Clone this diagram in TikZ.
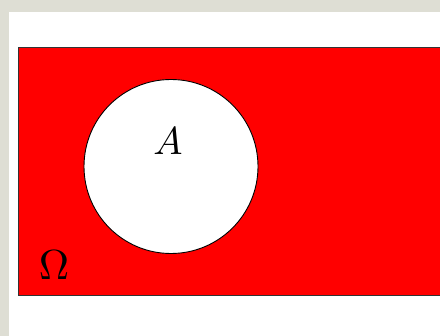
\documentclass[tikz,border=0pt]{standalone}
\begin{document}
\begin{tikzpicture}[x=1pt,y=-1pt,
  setbox/.style={fill=red,draw=black!80,line width=1pt},
  setcirc/.style={fill=white,draw=black,line width=0.9pt},
  lbl/.style={inner sep=0pt}]
\definecolor{texture}{RGB}{222,222,212}
\useasboundingbox (0,0) rectangle (440,336);
\fill[texture] (0,0) rectangle (440,336);
\fill[white] (9,12) rectangle (440,336);
\path[setbox] (18,48) rectangle (442,296);
\node[setcirc,circle,minimum size=174pt,inner sep=0pt] (A) at (171,166.5) {};
\node[lbl] (la) at (168,141) {\scalebox{3.9}{$A$}};
\node[lbl] (om) at (54,265.5) {\scalebox{4.2}{$\Omega$}};
\end{tikzpicture}
\end{document}
